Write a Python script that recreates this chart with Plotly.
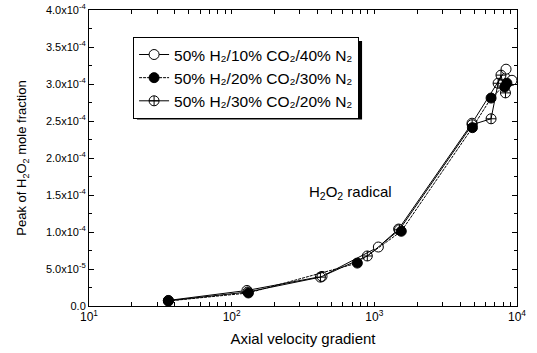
import plotly.graph_objects as go

# Series data
names = ["50% H₂/10% CO₂/40% N₂",
         "50% H₂/20% CO₂/30% N₂",
         "50% H₂/30% CO₂/20% N₂"]

x_a = [36, 128, 430, 1067, 1480, 4840, 8380, 9220]
y_a = [7.5e-6, 2.1e-5, 4.0e-5, 7.97e-5, 1.04e-4, 2.47e-4, 3.20e-4, 3.05e-4]

x_b = [36, 131, 760, 1545, 4870, 6580, 8500, 8200]
y_b = [6.8e-6, 1.76e-5, 5.8e-5, 1.01e-4, 2.41e-4, 2.81e-4, 3.01e-4, 2.96e-4]

x_c = [36, 130, 419, 893, 1500, 4850, 6580, 7370, 7720, 8300]
y_c = [7.0e-6, 1.9e-5, 3.9e-5, 6.76e-5, 1.03e-4, 2.45e-4, 2.53e-4, 3.01e-4, 3.12e-4, 2.88e-4]

y_tickvals = [0, 5e-5, 1e-4, 1.5e-4, 2e-4, 2.5e-4, 3e-4, 3.5e-4, 4e-4]
y_ticktext = ["0.0", "5.0x10<sup>-5</sup>", "1.0x10<sup>-4</sup>", "1.5x10<sup>-4</sup>",
              "2.0x10<sup>-4</sup>", "2.5x10<sup>-4</sup>", "3.0x10<sup>-4</sup>",
              "3.5x10<sup>-4</sup>", "4.0x10<sup>-4</sup>"]
x_decades = [10, 100, 1000, 10000]
x_decade_text = ["10<sup>1</sup>", "10<sup>2</sup>", "10<sup>3</sup>", "10<sup>4</sup>"]
x_minor = [m * d for d in (10, 100, 1000) for m in range(2, 10)]

x_tickvals = x_decades + x_minor
x_ticktext = x_decade_text + [""] * len(x_minor)

FONT = "Liberation Sans, Arial, sans-serif"

fig = go.Figure()
fig.add_trace(go.Scatter(x=x_a, y=y_a, name=names[0], mode="lines+markers",
                         line=dict(color="black", width=1),
                         marker=dict(symbol="circle", size=10, color="white",
                                     line=dict(color="black", width=1))))
fig.add_trace(go.Scatter(x=x_b, y=y_b, name=names[1], mode="lines+markers",
                         line=dict(color="black", width=1, dash="3px,1px"),
                         marker=dict(symbol="circle", size=10, color="black",
                                     line=dict(color="black", width=1))))
fig.add_trace(go.Scatter(x=x_c, y=y_c, name=names[2], mode="lines+markers",
                         line=dict(color="black", width=1),
                         marker=dict(symbol="circle-cross-open", size=10, color="black",
                                     line=dict(color="black", width=1))))

# legend shadow
fig.add_shape(type="rect", xref="paper", yref="paper",
              x0=0.112, x1=0.638, y0=0.630, y1=0.895,
              fillcolor="black", line=dict(width=0), layer="below")

fig.add_annotation(x=0.61, y=0.385, xref="paper", yref="paper",
                   text="H<sub>2</sub>O<sub>2</sub> radical", showarrow=False,
                   font=dict(family=FONT, size=15, color="black"))

fig.update_layout(
    width=537, height=353,
    margin=dict(l=89, r=20, t=10, b=47),
    paper_bgcolor="white", plot_bgcolor="white",
    font=dict(family=FONT, size=11, color="black"),
    showlegend=True,
    legend=dict(x=0.103, y=0.909, xanchor="left", yanchor="top",
                bgcolor="white", bordercolor="black", borderwidth=1,
                font=dict(family=FONT, size=15.5, color="black"),
                tracegroupgap=0, itemwidth=30),
    xaxis=dict(type="log", range=[1, 4], tickvals=x_tickvals, ticktext=x_ticktext,
               ticks="inside", ticklen=4, tickwidth=1, tickcolor="black", showline=True,
               linecolor="black", linewidth=1, mirror="allticks", showgrid=False,
               zeroline=False, tickfont=dict(size=12), automargin=False,
               title=dict(text="Axial velocity gradient",
                          font=dict(family=FONT, size=15, color="black"), standoff=10)),
    yaxis=dict(range=[0, 4e-4], tickvals=y_tickvals, ticktext=y_ticktext,
               ticks="inside", ticklen=5, tickcolor="black", showline=True,
               linecolor="black", linewidth=1, mirror="allticks", showgrid=False,
               zeroline=False, automargin=False,
               minor=dict(ticks="inside", ticklen=3, tickcolor="black", dtick=2.5e-5,
                          showgrid=False),
               title=dict(text="Peak of H<sub>2</sub>O<sub>2</sub> mole fraction",
                          font=dict(family=FONT, size=13, color="black"), standoff=16)),
)

fig.write_html("out.html")
